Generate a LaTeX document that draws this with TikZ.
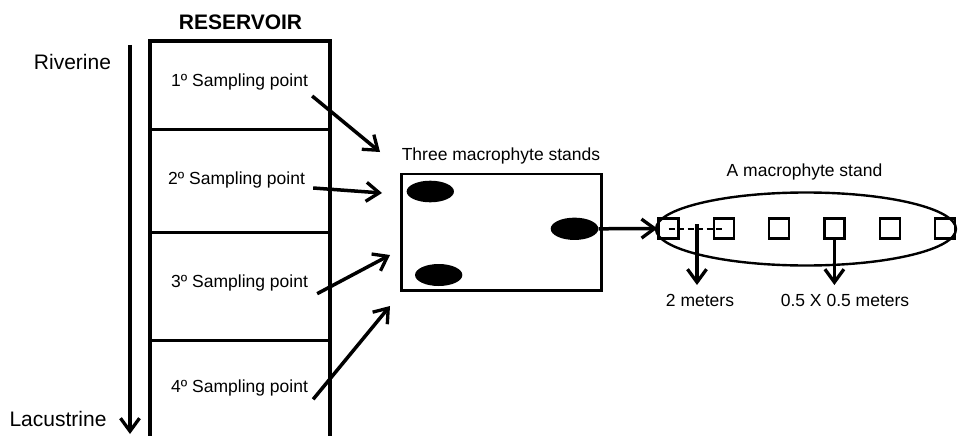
\documentclass[tikz,border=0pt]{standalone}
\usepackage{fontspec}
\setmainfont{Liberation Sans}
\usetikzlibrary{arrows.meta}
\tikzset{
  txt/.style={inner sep=0pt, font=\fontsize{17.5}{20}\selectfont},
  bigtxt/.style={inner sep=0pt, font=\fontsize{21}{24}\selectfont},
  arr/.style={line width=3.5pt, -{Straight Barb[length=13pt,width=19pt,line width=3.3pt]}},
  blob/.style={ellipse, fill=black, draw=none, inner sep=0pt},
  plot/.style={draw, line width=2.4pt, minimum size=20pt, inner sep=0pt}
}
\usetikzlibrary{shapes.geometric}
\begin{document}
\begin{tikzpicture}[x=1pt,y=-1pt]
\useasboundingbox (0,0) rectangle (958,436);
\fill[white] (0,0) rectangle (958,436);
% reservoir column
\begin{scope}
\clip (0,0) rectangle (958,436);
\draw[line width=3.2pt] (150,440) -- (150,41) -- (330,41) -- (330,440);
\draw[line width=2.4pt] (150,129.5) -- (330,129.5);
\draw[line width=2.4pt] (150,232.5) -- (330,232.5);
\draw[line width=2.4pt] (150,340.5) -- (330,340.5);
\end{scope}
\node[bigtxt, anchor=base, font=\fontsize{21}{24}\selectfont\bfseries] (res) at (240.5,29.3) {RESERVOIR};
\node[bigtxt, anchor=base] (riv) at (72.5,70) {Riverine};
\node[bigtxt, anchor=base] (lac) at (58,426.7) {Lacustrine};
\coordinate (gtop) at (130,45);
\coordinate (gbot) at (130,434);
\draw[arr] (gtop) -- (gbot);
% sampling points
\node[txt, anchor=base west] (s1) at (171,86) {1º Sampling point};
\node[txt, anchor=base west] (s2) at (168,184) {2º Sampling point};
\node[txt, anchor=base west] (s3) at (171,287.7) {3º Sampling point};
\node[txt, anchor=base west] (s4) at (171,392.3) {4º Sampling point};
% macrophyte stands box
\node[txt, anchor=base] (three) at (501,160) {Three macrophyte stands};
\node[draw, line width=2.8pt, minimum width=200pt, minimum height=116.7pt, inner sep=0pt] (field) at (501.7,232.4) {};
\node[blob, minimum width=47.3pt, minimum height=21.6pt] (b1) at (430.3,191.5) {};
\node[blob, minimum width=47.3pt, minimum height=22pt] (b2) at (438.7,275) {};
\node[blob, minimum width=47.6pt, minimum height=22.3pt] (b3) at (574.5,228.8) {};
% sampling arrows
\coordinate (e1) at (380,152);
\coordinate (e2) at (382,193);
\coordinate (e3) at (390,255);
\coordinate (e4) at (390,306);
\draw[arr] ([xshift=4pt,yshift=-10pt]s1.base east) -- (e1);
\draw[arr] ([xshift=8pt,yshift=-4pt]s2.base east) -- (e2);
\draw[arr] ([xshift=9pt,yshift=-6pt]s3.base east) -- (e3);
\draw[arr] ([xshift=5pt,yshift=-7pt]s4.base east) -- (e4);
% a macrophyte stand
\node[txt, anchor=base] (one) at (804.5,176.7) {A macrophyte stand};
\node[draw, ellipse, line width=2.4pt, minimum width=300pt, minimum height=73pt, inner sep=0pt] (stand) at (806,229) {};
\foreach \i/\xx in {1/668.5,2/723.8,3/779.1,4/834.4,5/889.7,6/945} {
  \node[plot] (q\i) at (\xx,228.5) {};
}
\draw[arr] (b3.east) -- (q1.west);
\draw[line width=2pt, dash pattern=on 6pt off 3.5pt] (q1.center) -- (q2.center);
\coordinate (dm) at (697,229);
\coordinate (t1) at (697,285);
\coordinate (t2) at (834.4,285);
\draw[arr] ([yshift=5pt]dm) -- (t1);
\draw[arr] (q4.south) -- (t2);
\node[txt, anchor=base] (m2) at (700,306.7) {2 meters};
\node[txt, anchor=base] (m05) at (845,306.7) {0.5 X 0.5 meters};
\end{tikzpicture}
\end{document}
